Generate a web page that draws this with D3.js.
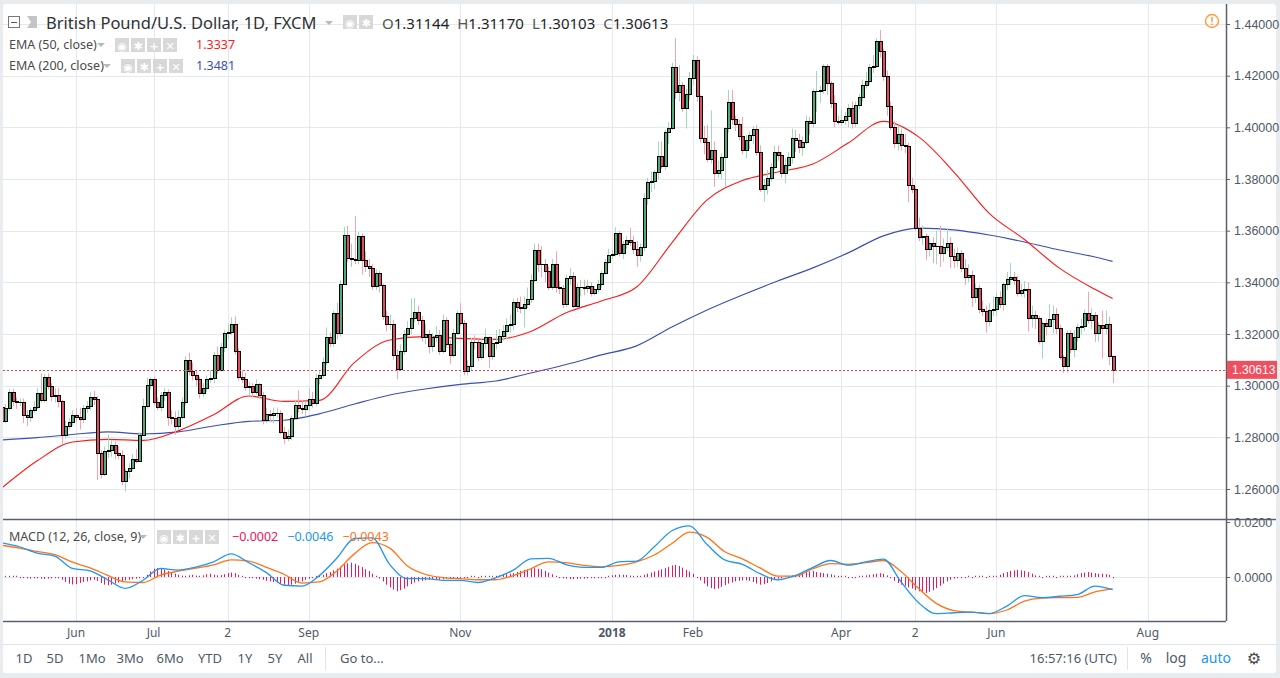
<!DOCTYPE html>
<html>
<head>
<meta charset="utf-8">
<style>
  html, body { margin: 0; padding: 0; background: #e9ecef; }
  svg { display: block; }
</style>
</head>
<body>
<div id="chart"></div>
<script src="https://d3js.org/d3.v7.min.js"></script>
<script>

// daily GBP/USD candles, first bar 2017-05-03, weekdays only
const startDate = "2017-05-03";

const opens = [
  1.2918,1.2862,1.2915,1.2975,1.2940,1.2936,1.2937,1.2885,1.2880,1.2905,
  1.2918,1.2972,1.2945,1.3035,1.2998,1.2960,1.2962,1.2940,1.2810,1.2845,
  1.2858,1.2887,1.2878,1.2872,1.2915,1.2920,1.2958,1.2950,1.2740,1.2660,
  1.2748,1.2752,1.2770,1.2740,1.2732,1.2630,1.2668,1.2680,1.2715,1.2708,
  1.2810,1.2920,1.3003,1.3025,1.2935,1.2918,1.2962,1.2975,1.2880,1.2875,
  1.2845,1.2880,1.2935,1.3100,1.3055,1.3040,1.3025,1.2972,1.2990,1.3025,
  1.3030,1.3120,1.3062,1.3150,1.3205,1.3208,1.3240,1.3135,1.3035,1.3025,
  1.2995,1.2998,1.2975,1.3005,1.2964,1.2867,1.2890,1.2888,1.2893,1.2895,
  1.2822,1.2798,1.2805,1.2876,1.2925,1.2915,1.2908,1.2925,1.2950,1.2932,
  1.3030,1.3040,1.3090,1.3190,1.3165,1.3280,1.3205,1.3395,1.3585,1.3495,
  1.3490,1.3485,1.3578,1.3488,1.3462,1.3455,1.3385,1.3435,1.3390,1.3268,
  1.3238,1.3240,1.3120,1.3065,1.3135,1.3200,1.3222,1.3260,1.3285,1.3255,
  1.3188,1.3200,1.3155,1.3190,1.3196,1.3135,1.3254,1.3160,1.3120,1.3205,
  1.3281,1.3242,1.3058,1.3076,1.3170,1.3168,1.3110,1.3165,1.3187,1.3115,
  1.3166,1.3170,1.3193,1.3210,1.3235,1.3240,1.3325,1.3305,1.3300,1.3315,
  1.3335,1.3409,1.3525,1.3472,1.3470,1.3442,1.3382,1.3470,1.3382,1.3378,
  1.3316,1.3415,1.3425,1.3310,1.3380,1.3382,1.3378,1.3385,1.3360,1.3375,
  1.3392,1.3438,1.3480,1.3505,1.3508,1.3590,1.3512,1.3550,1.3565,1.3557,
  1.3530,1.3505,1.3535,1.3725,1.3787,1.3792,1.3826,1.3890,1.3850,1.3983,
  1.3996,1.4232,1.4138,1.4164,1.4074,1.4130,1.4190,1.4261,1.4121,1.3958,
  1.3945,1.3877,1.3912,1.3822,1.3835,1.3887,1.3996,1.4100,1.4031,1.4012,
  1.3965,1.3912,1.3951,1.3970,1.3992,1.3905,1.3760,1.3777,1.3803,1.3848,
  1.3903,1.3891,1.3822,1.3855,1.3885,1.3960,1.3950,1.3925,1.3945,1.4023,
  1.4018,1.4139,1.4142,1.4145,1.4237,1.4170,1.4093,1.4025,1.4020,1.4030,
  1.4045,1.4075,1.4015,1.4087,1.4118,1.4165,1.4180,1.4235,1.4238,1.4335,
  1.4295,1.4200,1.4083,1.4003,1.3940,1.3975,1.3930,1.3928,1.3777,1.3760,
  1.3612,1.3575,1.3580,1.3528,1.3553,1.3540,1.3542,1.3515,1.3538,1.3553,
  1.3500,1.3487,1.3513,1.3455,1.3422,1.3428,1.3345,1.3377,1.3295,1.3290,
  1.3250,1.3291,1.3295,1.3342,1.3315,1.3394,1.3412,1.3422,1.3410,1.3360,
  1.3370,1.3375,1.3260,1.3274,1.3262,1.3171,1.3242,1.3232,1.3257,1.3276,
  1.3222,1.3112,1.3075,1.3205,1.3140,1.3190,1.3226,1.3232,1.3283,1.3255,
  1.3275,1.3205,1.3235,1.3225,1.3237,1.31144
];

const highs = [
  1.2925,1.2930,1.2988,1.2988,1.2955,1.2950,1.2950,1.2905,1.2915,1.2940,
  1.2990,1.3048,1.3045,1.3048,1.3010,1.2990,1.2990,1.2945,1.2865,1.2875,
  1.2905,1.2912,1.2915,1.2925,1.2940,1.2975,1.2980,1.2960,1.2750,1.2765,
  1.2810,1.2790,1.2785,1.2765,1.2750,1.2680,1.2700,1.2735,1.2755,1.2820,
  1.2950,1.3030,1.3030,1.3035,1.2955,1.2975,1.2990,1.2985,1.2905,1.2900,
  1.2905,1.2955,1.3115,1.3128,1.3090,1.3060,1.3035,1.3010,1.3040,1.3060,
  1.3130,1.3151,1.3165,1.3215,1.3240,1.3265,1.3268,1.3145,1.3060,1.3050,
  1.3015,1.3010,1.3025,1.3010,1.2975,1.2915,1.2905,1.2915,1.2915,1.2905,
  1.2840,1.2830,1.2885,1.2945,1.2982,1.2945,1.2940,1.2990,1.2975,1.3045,
  1.3060,1.3110,1.3225,1.3205,1.3290,1.3320,1.3410,1.3615,1.3618,1.3550,
  1.3657,1.3595,1.3590,1.3520,1.3490,1.3470,1.3450,1.3445,1.3395,1.3290,
  1.3275,1.3255,1.3140,1.3160,1.3215,1.3250,1.3338,1.3340,1.3310,1.3270,
  1.3240,1.3215,1.3205,1.3230,1.3215,1.3275,1.3265,1.3175,1.3220,1.3290,
  1.3320,1.3255,1.3100,1.3185,1.3195,1.3180,1.3180,1.3220,1.3190,1.3180,
  1.3215,1.3220,1.3235,1.3260,1.3275,1.3335,1.3340,1.3345,1.3345,1.3380,
  1.3430,1.3550,1.3550,1.3540,1.3490,1.3460,1.3490,1.3520,1.3405,1.3390,
  1.3430,1.3455,1.3440,1.3395,1.3410,1.3410,1.3410,1.3400,1.3385,1.3410,
  1.3445,1.3490,1.3530,1.3525,1.3613,1.3600,1.3560,1.3580,1.3610,1.3580,
  1.3560,1.3550,1.3745,1.3805,1.3830,1.3835,1.3945,1.3945,1.3990,1.4020,
  1.4250,1.4345,1.4240,1.4175,1.4150,1.4215,1.4280,1.4275,1.4125,1.4005,
  1.4010,1.4065,1.3945,1.3870,1.3900,1.4000,1.4145,1.4145,1.4045,1.4030,
  1.4040,1.3970,1.3985,1.4005,1.4010,1.3930,1.3800,1.3835,1.3860,1.3930,
  1.3930,1.3905,1.3880,1.3905,1.3995,1.3990,1.3975,1.3965,1.4045,1.4040,
  1.4150,1.4218,1.4160,1.4245,1.4245,1.4180,1.4125,1.4045,1.4070,1.4060,
  1.4090,1.4100,1.4100,1.4130,1.4185,1.4215,1.4245,1.4280,1.4345,1.4377,
  1.4305,1.4220,1.4100,1.4025,1.4005,1.3995,1.3975,1.3940,1.3805,1.3770,
  1.3650,1.3620,1.3590,1.3570,1.3575,1.3600,1.3620,1.3570,1.3610,1.3575,
  1.3530,1.3535,1.3525,1.3490,1.3470,1.3445,1.3395,1.3390,1.3330,1.3310,
  1.3320,1.3345,1.3360,1.3365,1.3400,1.3440,1.3475,1.3440,1.3425,1.3395,
  1.3405,1.3400,1.3310,1.3290,1.3270,1.3250,1.3260,1.3315,1.3310,1.3300,
  1.3235,1.3120,1.3215,1.3215,1.3215,1.3240,1.3260,1.3295,1.3364,1.3300,
  1.3285,1.3245,1.3290,1.3290,1.3267,1.31170
];

const lows = [
  1.2845,1.2855,1.2905,1.2920,1.2910,1.2920,1.2855,1.2845,1.2860,1.2895,
  1.2910,1.2935,1.2935,1.2985,1.2940,1.2935,1.2915,1.2775,1.2795,1.2830,
  1.2845,1.2860,1.2830,1.2855,1.2895,1.2905,1.2925,1.2635,1.2640,1.2650,
  1.2720,1.2725,1.2715,1.2715,1.2615,1.2590,1.2640,1.2670,1.2700,1.2705,
  1.2805,1.2910,1.2985,1.2925,1.2905,1.2900,1.2940,1.2845,1.2850,1.2810,
  1.2830,1.2870,1.2925,1.3040,1.3020,1.3000,1.2950,1.2955,1.2975,1.3010,
  1.3010,1.3045,1.3055,1.3130,1.3180,1.3195,1.3120,1.3020,1.3010,1.2980,
  1.2960,1.2955,1.2965,1.2950,1.2850,1.2855,1.2860,1.2855,1.2875,1.2812,
  1.2775,1.2785,1.2790,1.2870,1.2895,1.2890,1.2880,1.2905,1.2915,1.2920,
  1.3005,1.3030,1.3080,1.3150,1.3150,1.3180,1.3190,1.3390,1.3480,1.3460,
  1.3470,1.3470,1.3430,1.3440,1.3420,1.3370,1.3370,1.3360,1.3255,1.3210,
  1.3215,1.3100,1.3025,1.3060,1.3120,1.3190,1.3200,1.3245,1.3235,1.3170,
  1.3160,1.3125,1.3130,1.3170,1.3120,1.3125,1.3145,1.3085,1.3110,1.3195,
  1.3230,1.3040,1.3040,1.3060,1.3140,1.3095,1.3100,1.3140,1.3068,1.3100,
  1.3140,1.3165,1.3175,1.3180,1.3205,1.3215,1.3285,1.3280,1.3225,1.3300,
  1.3320,1.3400,1.3440,1.3420,1.3400,1.3370,1.3370,1.3360,1.3355,1.3300,
  1.3305,1.3390,1.3300,1.3300,1.3345,1.3350,1.3360,1.3345,1.3350,1.3360,
  1.3380,1.3430,1.3470,1.3490,1.3500,1.3500,1.3490,1.3530,1.3540,1.3510,
  1.3460,1.3480,1.3520,1.3700,1.3750,1.3760,1.3800,1.3840,1.3835,1.3935,
  1.3990,1.4110,1.4100,1.4060,1.3995,1.4105,1.4165,1.4100,1.3940,1.3895,
  1.3865,1.3860,1.3770,1.3805,1.3800,1.3770,1.3980,1.4010,1.3985,1.3950,
  1.3895,1.3880,1.3915,1.3935,1.3890,1.3750,1.3712,1.3740,1.3790,1.3835,
  1.3870,1.3805,1.3785,1.3835,1.3860,1.3905,1.3900,1.3890,1.3935,1.3970,
  1.4000,1.4060,1.4095,1.4130,1.4125,1.4075,1.4000,1.4010,1.4005,1.4010,
  1.4000,1.3995,1.4000,1.4070,1.4100,1.4150,1.4165,1.4210,1.4230,1.4270,
  1.4180,1.4045,1.3990,1.3920,1.3910,1.3910,1.3900,1.3710,1.3745,1.3600,
  1.3560,1.3545,1.3487,1.3500,1.3474,1.3470,1.3460,1.3480,1.3520,1.3455,
  1.3455,1.3460,1.3440,1.3390,1.3400,1.3305,1.3320,1.3280,1.3270,1.3205,
  1.3230,1.3270,1.3270,1.3300,1.3290,1.3370,1.3390,1.3390,1.3345,1.3345,
  1.3340,1.3210,1.3225,1.3220,1.3160,1.3105,1.3195,1.3225,1.3203,1.3200,
  1.3100,1.3050,1.3050,1.3125,1.3110,1.3170,1.3200,1.3210,1.3240,1.3220,
  1.3170,1.3170,1.3105,1.3200,1.3080,1.30103
];

const closes = [
  1.2862,1.2915,1.2975,1.2940,1.2936,1.2937,1.2885,1.2880,1.2905,1.2918,
  1.2972,1.2945,1.3035,1.2998,1.2960,1.2962,1.2940,1.2810,1.2845,1.2858,
  1.2887,1.2878,1.2872,1.2915,1.2920,1.2958,1.2950,1.2740,1.2660,1.2748,
  1.2752,1.2770,1.2740,1.2732,1.2630,1.2668,1.2680,1.2715,1.2708,1.2810,
  1.2920,1.3003,1.3025,1.2935,1.2918,1.2962,1.2975,1.2880,1.2875,1.2845,
  1.2880,1.2935,1.3100,1.3055,1.3040,1.3025,1.2972,1.2990,1.3025,1.3030,
  1.3120,1.3062,1.3150,1.3205,1.3208,1.3240,1.3135,1.3035,1.3025,1.2995,
  1.2998,1.2975,1.3005,1.2964,1.2867,1.2890,1.2888,1.2893,1.2895,1.2822,
  1.2798,1.2805,1.2876,1.2925,1.2915,1.2908,1.2925,1.2950,1.2932,1.3030,
  1.3040,1.3090,1.3190,1.3165,1.3280,1.3205,1.3395,1.3585,1.3495,1.3490,
  1.3485,1.3578,1.3488,1.3462,1.3455,1.3385,1.3435,1.3390,1.3268,1.3238,
  1.3240,1.3120,1.3065,1.3135,1.3200,1.3222,1.3260,1.3285,1.3255,1.3188,
  1.3200,1.3155,1.3190,1.3196,1.3135,1.3254,1.3160,1.3120,1.3205,1.3281,
  1.3242,1.3058,1.3076,1.3170,1.3168,1.3110,1.3165,1.3187,1.3115,1.3166,
  1.3170,1.3193,1.3210,1.3235,1.3240,1.3325,1.3305,1.3300,1.3315,1.3335,
  1.3409,1.3525,1.3472,1.3470,1.3442,1.3382,1.3470,1.3382,1.3378,1.3316,
  1.3415,1.3425,1.3310,1.3380,1.3382,1.3378,1.3385,1.3360,1.3375,1.3392,
  1.3438,1.3480,1.3505,1.3508,1.3590,1.3512,1.3550,1.3565,1.3557,1.3530,
  1.3505,1.3535,1.3725,1.3787,1.3792,1.3826,1.3890,1.3850,1.3983,1.3996,
  1.4232,1.4138,1.4164,1.4074,1.4130,1.4190,1.4261,1.4121,1.3958,1.3945,
  1.3877,1.3912,1.3822,1.3835,1.3887,1.3996,1.4100,1.4031,1.4012,1.3965,
  1.3912,1.3951,1.3970,1.3992,1.3905,1.3760,1.3777,1.3803,1.3848,1.3903,
  1.3891,1.3822,1.3855,1.3885,1.3960,1.3950,1.3925,1.3945,1.4023,1.4018,
  1.4139,1.4142,1.4145,1.4237,1.4170,1.4093,1.4025,1.4020,1.4030,1.4045,
  1.4075,1.4015,1.4087,1.4118,1.4165,1.4180,1.4235,1.4238,1.4335,1.4295,
  1.4200,1.4083,1.4003,1.3940,1.3975,1.3930,1.3928,1.3777,1.3760,1.3612,
  1.3575,1.3580,1.3528,1.3553,1.3540,1.3542,1.3515,1.3538,1.3553,1.3500,
  1.3487,1.3513,1.3455,1.3422,1.3428,1.3345,1.3377,1.3295,1.3290,1.3250,
  1.3291,1.3295,1.3342,1.3315,1.3394,1.3412,1.3422,1.3410,1.3360,1.3370,
  1.3375,1.3260,1.3274,1.3262,1.3171,1.3242,1.3232,1.3257,1.3276,1.3222,
  1.3112,1.3075,1.3205,1.3140,1.3190,1.3226,1.3232,1.3283,1.3255,1.3275,
  1.3205,1.3235,1.3225,1.3237,1.3114,1.30613
];

// EMA values read every 10 bars (+ last bar)
const emaBars = d3.range(0, 311, 10).concat([315]);
const ema50 = [
  1.2604,1.2709,1.2782,1.2792,1.2788,1.2825,1.2887,1.2960,1.2939,1.2943,
  1.3090,1.3177,1.3190,1.3183,1.3179,1.3210,1.3282,1.3328,1.3382,1.3553,
  1.3719,1.3794,1.3827,1.3858,1.3939,1.4023,1.3963,1.3827,1.3667,1.3566,
  1.3454,1.3373,1.3337
];
const ema200 = [
  1.2790,1.2799,1.2811,1.2821,1.2813,1.2821,1.2844,1.2862,1.2866,1.2891,
  1.2929,1.2964,1.2987,1.3005,1.3018,1.3049,1.3082,1.3119,1.3154,1.3227,
  1.3293,1.3351,1.3405,1.3456,1.3514,1.3580,1.3610,1.3603,1.3583,1.3556,
  1.3525,1.3498,1.3481
];

// MACD (12, 26, 9) read every 5 bars
const macdBars = d3.range(0, 316, 5);
const macdLine = [
  0.0124,0.0110,0.0087,0.0076,0.0031,0.0022,-0.0010,-0.0041,-0.0012,0.0031,
  0.0025,0.0036,0.0055,0.0084,0.0052,0.0016,-0.0030,-0.0033,0.0005,0.0069,
  0.0140,0.0142,0.0045,-0.0006,-0.0006,-0.0012,-0.0012,-0.0020,-0.0003,0.0025,
  0.0066,0.0068,0.0045,0.0035,0.0035,0.0055,0.0058,0.0110,0.0168,0.0186,
  0.0118,0.0062,0.0046,0.0012,-0.0010,0.0005,0.0035,0.0060,0.0043,0.0055,
  0.0065,-0.0018,-0.0094,-0.0133,-0.0130,-0.0128,-0.0133,-0.0106,-0.0068,-0.0075,
  -0.0070,-0.0064,-0.0033,-0.0046
];
const signalLine = [
  0.0115,0.0105,0.0093,0.0081,0.0054,0.0033,0.0006,-0.0018,-0.0020,0.0007,
  0.0021,0.0032,0.0044,0.0062,0.0058,0.0035,0.0010,-0.0022,-0.0018,0.0022,
  0.0085,0.0125,0.0105,0.0040,0.0010,-0.0002,-0.0006,-0.0010,-0.0010,0.0005,
  0.0030,0.0055,0.0052,0.0042,0.0037,0.0042,0.0055,0.0080,0.0122,0.0163,
  0.0144,0.0092,0.0066,0.0033,0.0003,0.0003,0.0030,0.0049,0.0046,0.0052,
  0.0060,0.0020,-0.0042,-0.0096,-0.0122,-0.0128,-0.0133,-0.0120,-0.0088,-0.0077,
  -0.0075,-0.0074,-0.0054,-0.0043
];
// histogram per bar, in units of 0.0001
const histogram = [
  2,2,1,1,1,-3,-4,-5,-6,-5,
  -5,-6,-7,-6,-5,-4,-5,-10,-18,-24,
  -27,-26,-22,-18,-16,-12,-10,-14,-22,-28,
  -30,-28,-24,-20,-16,-12,-10,-8,-6,-4,
  -2,8,20,30,33,30,26,22,16,12,
  8,5,4,6,8,5,4,6,10,12,
  8,6,7,10,14,16,14,8,2,-1,
  -2,-4,-6,-8,-10,-14,-16,-18,-20,-24,
  -28,-30,-28,-24,-20,-16,-10,-6,-2,2,
  4,8,14,18,24,30,38,46,50,52,
  48,42,36,28,22,12,4,-6,-16,-28,
  -38,-46,-52,-48,-42,-34,-26,-20,-16,-14,
  -12,-10,-8,-8,-10,-8,-6,-8,-6,-4,
  -3,-2,-2,2,1,-1,2,2,1,2,
  4,6,8,10,12,14,18,22,26,28,
  30,32,30,28,22,16,10,4,-3,-5,
  -6,-8,-8,-7,-6,-6,-5,-4,-5,-4,
  -2,-1,2,6,8,9,8,7,5,3,
  2,3,8,12,16,20,24,28,32,36,
  42,44,40,34,26,20,12,0,-12,-24,
  -34,-40,-44,-42,-36,-30,-24,-20,-16,-14,
  -12,-12,-14,-18,-24,-28,-26,-22,-16,-10,
  -6,-2,2,4,6,8,10,14,18,20,
  22,18,16,14,12,10,6,4,2,1,
  -1,-2,-1,1,3,6,8,10,12,14,
  12,6,-4,-14,-22,-28,-32,-38,-42,-48,
  -52,-56,-58,-54,-48,-40,-32,-24,-16,-10,
  -6,-4,-2,-1,1,-1,1,1,2,-1,
  1,2,4,8,14,18,22,24,26,24,
  22,18,12,6,2,-1,1,1,2,-1,
  1,1,2,3,6,10,14,16,18,16,
  14,12,12,10,8,-2
];

const priceTicks = [1.26, 1.28, 1.30, 1.32, 1.34, 1.36, 1.38, 1.40, 1.42, 1.44];
const macdTicks = [0, 0.02];
const timeTickDates = ["2017-06-01","2017-07-03","2017-08-01","2017-09-01","2017-11-01",
  "2018-01-01","2018-02-01","2018-04-02","2018-05-01","2018-06-01","2018-08-01"];
const timeTickLabels = ["Jun","Jul","2","Sep","Nov","2018","Feb","Apr","2","Jun","Aug"];
const rangeButtons = ["1D","5D","1Mo","3Mo","6Mo","YTD","1Y","5Y","All"];

var width = 1280;
var height = 678;
var plot = {left: 3, right: 1226, top: 4, mainBottom: 519, macdBottom: 621};

const FONT = "'Noto Sans', 'DejaVu Sans', sans-serif";
const AXISFONT = "'Liberation Sans', Arial, sans-serif";
const TXT = "#4f5966";

// weekday calendar used to place the month labels
function tradingDays(start, n) {
  const out = [];
  const d = new Date(start + "T00:00:00Z");
  while (out.length < n) {
    const wd = d.getUTCDay();
    if (wd !== 0 && wd !== 6) out.push(d.toISOString().slice(0, 10));
    d.setUTCDate(d.getUTCDate() + 1);
  }
  return out;
}
const calendar = tradingDays(startDate, 360);

var candles = closes.map((c, i) => ({i: i, o: opens[i], h: highs[i], l: lows[i], c: c}));
const last = candles[candles.length - 1];

var x = d3.scaleLinear().domain([0, 315]).range([1.95, 1112.6]);
var y = d3.scaleLinear().domain([1.26, 1.44]).range([489, 24]);
var ym = d3.scaleLinear().domain([0, 0.02]).range([577, 522]);

var svg = d3.select("#chart").append("svg")
  .attr("width", width).attr("height", height)
  .attr("viewBox", "0 0 " + width + " " + height);

svg.append("rect").attr("width", width).attr("height", height).attr("fill", "#e9ecef");
svg.append("rect").attr("x", 3).attr("y", 4).attr("width", 1273).attr("height", 669)
  .attr("rx", 3).attr("fill", "#ffffff");

var defs = svg.append("defs");
defs.append("clipPath").attr("id", "clip-main").append("rect")
  .attr("x", plot.left).attr("y", plot.top)
  .attr("width", plot.right - plot.left).attr("height", plot.mainBottom - plot.top);
defs.append("clipPath").attr("id", "clip-macd").append("rect")
  .attr("x", plot.left).attr("y", plot.mainBottom + 1)
  .attr("width", plot.right - plot.left).attr("height", plot.macdBottom - plot.mainBottom - 1);

// grid
var grid = svg.append("g").attr("stroke", "#e3e9ef").attr("stroke-width", 1);
grid.selectAll("line.h").data(priceTicks).join("line")
  .attr("x1", plot.left).attr("x2", plot.right)
  .attr("y1", d => Math.round(y(d)) + 0.5).attr("y2", d => Math.round(y(d)) + 0.5);
grid.append("line").attr("x1", plot.left).attr("x2", plot.right)
  .attr("y1", Math.round(ym(0)) + 0.5).attr("y2", Math.round(ym(0)) + 0.5);
var tickIdx = timeTickDates.map(d => calendar.indexOf(d));
grid.selectAll("line.v").data(tickIdx).join("line")
  .attr("x1", d => Math.round(x(d)) + 0.5).attr("x2", d => Math.round(x(d)) + 0.5)
  .attr("y1", plot.top).attr("y2", plot.macdBottom);

// main pane
var main = svg.append("g").attr("clip-path", "url(#clip-main)");

main.append("path").datum(emaBars.map((b, k) => [b, ema200[k]]))
  .attr("fill", "none").attr("stroke", "#3c4fb2").attr("stroke-width", 1.15)
  .attr("d", d3.line().curve(d3.curveMonotoneX).x(d => x(d[0])).y(d => y(d[1])));
main.append("path").datum(emaBars.map((b, k) => [b, ema50[k]]))
  .attr("fill", "none").attr("stroke", "#ff1a1a").attr("stroke-width", 1.15)
  .attr("d", d3.line().curve(d3.curveMonotoneX).x(d => x(d[0])).y(d => y(d[1])));

main.append("g").selectAll("line").data(candles).join("line")
  .attr("x1", d => Math.round(x(d.i)) + 0.5).attr("x2", d => Math.round(x(d.i)) + 0.5)
  .attr("y1", d => y(Math.max(d.h, d.o, d.c))).attr("y2", d => y(Math.min(d.l, d.o, d.c)))
  .attr("stroke", d => d.c >= d.o ? "#a3d8bb" : "#f2a4af")
  .attr("stroke-width", 1);

main.append("g").attr("shape-rendering", "crispEdges")
  .selectAll("rect").data(candles).join("rect")
  .attr("x", d => Math.round(x(d.i)) - 1)
  .attr("width", 3)
  .attr("y", d => Math.round(y(Math.max(d.o, d.c))) + 0.5)
  .attr("height", d => Math.max(0.01, Math.round(y(Math.min(d.o, d.c))) - Math.round(y(Math.max(d.o, d.c)))))
  .attr("fill", d => d.c >= d.o ? "#4cab79" : "#e5485f")
  .attr("stroke", "#000").attr("stroke-width", 1);

svg.append("line")
  .attr("x1", plot.left).attr("x2", plot.right)
  .attr("y1", Math.round(y(last.c)) + 0.5).attr("y2", Math.round(y(last.c)) + 0.5)
  .attr("stroke", "#f03a4f").attr("stroke-width", 1).attr("stroke-dasharray", "2,2");

// MACD pane
var macdG = svg.append("g").attr("clip-path", "url(#clip-macd)");
macdG.append("g").selectAll("line").data(histogram.map((h, i) => [i, h * 0.0001])).join("line")
  .attr("x1", d => Math.round(x(d[0])) + 0.5).attr("x2", d => Math.round(x(d[0])) + 0.5)
  .attr("y1", ym(0))
  .attr("y2", d => {
    const dy = ym(d[1]) - ym(0);
    return ym(0) + (Math.abs(dy) < 1.2 ? (dy < 0 ? -1.2 : 1.2) : dy);
  })
  .attr("stroke", "#f4125c").attr("stroke-width", 1);
macdG.append("path").datum(macdBars.map((b, k) => [b, signalLine[k]]))
  .attr("fill", "none").attr("stroke", "#ff7418").attr("stroke-width", 1.3)
  .attr("d", d3.line().curve(d3.curveMonotoneX).x(d => x(d[0])).y(d => ym(d[1])));
macdG.append("path").datum(macdBars.map((b, k) => [b, macdLine[k]]))
  .attr("fill", "none").attr("stroke", "#2196f3").attr("stroke-width", 1.3)
  .attr("d", d3.line().curve(d3.curveMonotoneX).x(d => x(d[0])).y(d => ym(d[1])));

// frame lines
svg.append("line").attr("x1", plot.left).attr("x2", 1276)
  .attr("y1", plot.mainBottom + 0.5).attr("y2", plot.mainBottom + 0.5)
  .attr("stroke", "#5d606b").attr("stroke-width", 1.5);
svg.append("line").attr("x1", plot.left).attr("x2", plot.right)
  .attr("y1", plot.macdBottom + 0.5).attr("y2", plot.macdBottom + 0.5)
  .attr("stroke", "#5d606b").attr("stroke-width", 1.5);
svg.append("line").attr("x1", plot.right + 0.5).attr("x2", plot.right + 0.5)
  .attr("y1", plot.top).attr("y2", plot.macdBottom)
  .attr("stroke", "#5d606b").attr("stroke-width", 1.5);

// price axis
var yAxis = svg.append("g")
  .attr("transform", `translate(${plot.right},0)`)
  .call(d3.axisRight(y).tickValues(priceTicks).tickFormat(d3.format(".5f")).tickSize(4).tickPadding(4));
yAxis.select(".domain").remove();
yAxis.selectAll(".tick line").attr("stroke", "#5d606b");
yAxis.selectAll(".tick text").attr("fill", TXT).attr("font-family", AXISFONT).attr("font-size", 12.5);

var mAxis = svg.append("g")
  .attr("transform", `translate(${plot.right},0)`)
  .call(d3.axisRight(ym).tickValues(macdTicks).tickFormat(d3.format(".4f")).tickSize(4).tickPadding(4));
mAxis.select(".domain").remove();
mAxis.selectAll(".tick line").attr("stroke", "#5d606b");
mAxis.selectAll(".tick text").attr("fill", TXT).attr("font-family", AXISFONT).attr("font-size", 12.5);

// last price badge
var badge = svg.append("g").attr("transform", `translate(${plot.right + 1},${y(last.c)})`);
badge.append("rect").attr("x", 0).attr("y", -9).attr("width", 50).attr("height", 18).attr("fill", "#ef4f5e");
badge.append("text").attr("x", 5).attr("y", 4.5).attr("fill", "#fff")
  .attr("font-family", AXISFONT).attr("font-size", 12).text(d3.format(".5f")(last.c));

// warning icon
var warn = svg.append("g").attr("transform", "translate(1212,21)");
warn.append("circle").attr("r", 6.5).attr("fill", "none").attr("stroke", "#ff9b3d").attr("stroke-width", 1.4);
warn.append("text").attr("y", 4).attr("text-anchor", "middle").attr("fill", "#ff9b3d")
  .attr("font-family", AXISFONT).attr("font-size", 11).attr("font-weight", "bold").text("!");

// time axis labels
svg.append("g").selectAll("text").data(tickIdx).join("text")
  .attr("x", d => x(d)).attr("y", 637)
  .attr("text-anchor", "middle").attr("fill", TXT)
  .attr("font-family", FONT).attr("font-size", 12)
  .attr("font-weight", (d, k) => timeTickLabels[k] === "2018" ? "bold" : "normal")
  .text((d, k) => timeTickLabels[k]);

// legend helpers
function iconButtons(xs, yc, n) {
  const g = svg.append("g");
  const glyphs = ["◉", "✱", "+", "✕"];
  for (let k = 0; k < n; k++) {
    g.append("rect").attr("x", xs + k * 16).attr("y", yc - 7).attr("width", 14).attr("height", 14)
      .attr("fill", "#d8d8d8");
    g.append("text").attr("x", xs + k * 16 + 7).attr("y", yc + 4.5).attr("text-anchor", "middle")
      .attr("fill", "#fff").attr("font-family", "'DejaVu Sans', sans-serif").attr("font-size", 11)
      .attr("font-weight", "bold").text(glyphs[k]);
  }
}
function caret(xc, yc) {
  svg.append("path").attr("d", `M${xc - 4},${yc - 2} L${xc + 4},${yc - 2} L${xc},${yc + 2} Z`).attr("fill", "#b8b8b8");
}

// title row
svg.append("rect").attr("x", 8.5).attr("y", 16.5).attr("width", 11).attr("height", 11)
  .attr("fill", "#fff").attr("stroke", "#777");
svg.append("line").attr("x1", 11).attr("x2", 17).attr("y1", 22.5).attr("y2", 22.5).attr("stroke", "#555");
svg.append("path").attr("d", "M27,16 L37,16 L37,28 L27,28 L31,22 Z").attr("fill", "#c4c4c4");
svg.append("text").attr("x", 46).attr("y", 29).attr("fill", "#2f3235")
  .attr("font-family", FONT).attr("font-size", 16.5)
  .text("British Pound/U.S. Dollar, 1D, FXCM");
caret(329, 23);
iconButtons(343, 22, 2);
var ohlc = svg.append("text").attr("x", 382).attr("y", 29)
  .attr("font-family", FONT).attr("font-size", 15).attr("fill", "#1f1f1f");
[["O", last.o], ["H", last.h], ["L", last.l], ["C", last.c]].forEach((p, k) => {
  ohlc.append("tspan").attr("dx", k ? 8 : 0).attr("fill", "#555").text(p[0]);
  ohlc.append("tspan").text(d3.format(".5f")(p[1]));
});

// EMA legends
svg.append("text").attr("x", 9).attr("y", 49).attr("fill", "#4a4a4a")
  .attr("font-family", FONT).attr("font-size", 12.5).text("EMA (50, close)");
caret(101, 45);
iconButtons(115, 45, 4);
svg.append("text").attr("x", 196).attr("y", 49).attr("fill", "#ff1a1a")
  .attr("font-family", FONT).attr("font-size", 12.5).text(d3.format(".4f")(ema50[ema50.length - 1]));

svg.append("text").attr("x", 9).attr("y", 70).attr("fill", "#4a4a4a")
  .attr("font-family", FONT).attr("font-size", 12.5).text("EMA (200, close)");
caret(107, 66);
iconButtons(121, 66, 4);
svg.append("text").attr("x", 196).attr("y", 70).attr("fill", "#3c4fb2")
  .attr("font-family", FONT).attr("font-size", 12.5).text(d3.format(".4f")(ema200[ema200.length - 1]));

// MACD legend
svg.append("text").attr("x", 9).attr("y", 541).attr("fill", "#4a4a4a")
  .attr("font-family", FONT).attr("font-size", 12.5).text("MACD (12, 26, close, 9)");
caret(143, 537);
iconButtons(157, 537, 4);
var macdLeg = svg.append("text").attr("x", 232).attr("y", 541)
  .attr("font-family", FONT).attr("font-size", 12.5);
macdLeg.append("tspan").attr("fill", "#f4125c").text(d3.format(".4f")(histogram[histogram.length - 1] * 0.0001));
macdLeg.append("tspan").attr("dx", 9).attr("fill", "#2196f3").text(d3.format(".4f")(macdLine[macdLine.length - 1]));
macdLeg.append("tspan").attr("dx", 9).attr("fill", "#ff7418").text(d3.format(".4f")(signalLine[signalLine.length - 1]));

// bottom toolbar
svg.append("line").attr("x1", 3).attr("x2", 1276).attr("y1", 644.5).attr("y2", 644.5)
  .attr("stroke", "#e0e3eb");
var btnX = [24, 55, 92, 130, 170, 210, 245, 275, 305];
svg.append("g").selectAll("text").data(rangeButtons).join("text")
  .attr("x", (d, k) => btnX[k]).attr("y", 663).attr("text-anchor", "middle")
  .attr("fill", TXT).attr("font-family", FONT).attr("font-size", 13).text(d => d);
svg.append("line").attr("x1", 325.5).attr("x2", 325.5).attr("y1", 647).attr("y2", 670).attr("stroke", "#e0e3eb");
svg.append("text").attr("x", 340).attr("y", 663).attr("fill", TXT)
  .attr("font-family", FONT).attr("font-size", 13).text("Go to...");
svg.append("text").attr("x", 1117).attr("y", 663).attr("text-anchor", "end").attr("fill", TXT)
  .attr("font-family", FONT).attr("font-size", 13).text("16:57:16 (UTC)");
svg.append("line").attr("x1", 1127.5).attr("x2", 1127.5).attr("y1", 647).attr("y2", 670).attr("stroke", "#e0e3eb");
svg.append("text").attr("x", 1146).attr("y", 663).attr("text-anchor", "middle").attr("fill", TXT)
  .attr("font-family", FONT).attr("font-size", 14).text("%");
svg.append("text").attr("x", 1176).attr("y", 663).attr("text-anchor", "middle").attr("fill", TXT)
  .attr("font-family", FONT).attr("font-size", 14).text("log");
svg.append("text").attr("x", 1216).attr("y", 663).attr("text-anchor", "middle").attr("fill", "#2196f3")
  .attr("font-family", FONT).attr("font-size", 14).text("auto");
svg.append("text").attr("x", 1254).attr("y", 664).attr("text-anchor", "middle").attr("fill", "#4a4a4a")
  .attr("font-family", "'DejaVu Sans', sans-serif").attr("font-size", 16).text("⚙");

</script>
</body>
</html>
